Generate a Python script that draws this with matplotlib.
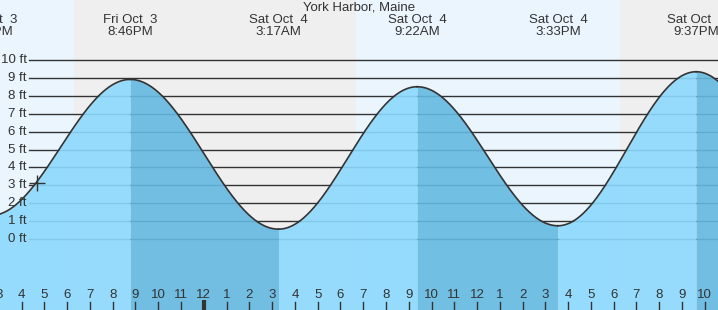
import numpy as np
import matplotlib.pyplot as plt

plt.rcParams['font.family'] = ['Liberation Sans', 'DejaVu Sans']

# hours counted from Fri Oct 3 00:00
tide_hours = [14.63, 20.77, 27.28, 33.37, 39.55, 45.62, 51.80]
tide_ft = [1.30, 8.93, 0.54, 8.52, 0.73, 9.36, 0.30]
tide_labels = ['Fri Oct  3\n2:38PM', 'Fri Oct  3\n8:46PM', 'Sat Oct  4\n3:17AM',
               'Sat Oct  4\n9:22AM', 'Sat Oct  4\n3:33PM', 'Sat Oct  4\n9:37PM', '']
sun_hours = [18.30, 30.68, 42.28]   # sunset fri, sunrise sat, sunset sat
now_hour = 16.69
now_ft = 3.1
ft_levels = list(range(0, 11))
hour_ticks = list(range(15, 47))

x0, x1 = 15.05, 46.58
y0, y1 = -3.99, 13.38

fig = plt.figure(figsize=(7.18, 3.10), dpi=100)
ax = fig.add_axes([0, 0, 1, 1])
ax.set_xlim(x0, x1)
ax.set_ylim(y0, y1)
ax.axis('off')

day = '#eaf5fe'
night = '#efefef'
edges = [x0] + sun_hours + [x1]
for i in range(len(edges) - 1):
    ax.axvspan(edges[i], edges[i + 1], color=day if i % 2 == 0 else night, lw=0, zorder=0)

# foot lines + labels
for f in ft_levels:
    ax.axhline(f, xmin=29 / 718, color='#333333', lw=1, zorder=1)
    ax.text(27 / 718, f, '%d ft' % f, transform=ax.get_yaxis_transform(),
            ha='right', va='center', fontsize=9.5, color='#333333')

light = '#8cd9fd'
dark = '#65b9e2'
for i in range(len(tide_hours) - 1):
    ta, tb = tide_hours[i], tide_hours[i + 1]
    ha_, hb = tide_ft[i], tide_ft[i + 1]
    t = np.linspace(ta, tb, 200)
    h = ha_ + (hb - ha_) * (1 - np.cos(np.pi * (t - ta) / (tb - ta))) / 2
    col = dark if hb < ha_ else light
    ax.fill_between(t, y0, h, color=col, alpha=0.9, lw=0, zorder=2)
    ax.plot(t, h, color='#333333', lw=1.2, zorder=3)

ax.plot(now_hour, now_ft, marker='+', ms=11, mew=1.0, color='#333333', zorder=4)

# hour ticks at bottom
xt = ax.get_xaxis_transform()
for hr in hour_ticks:
    lab = str((hr - 1) % 12 + 1)
    if hr % 24 == 0:
        ax.plot([hr, hr], [0, 10 / 310], transform=xt, color='#333333', lw=3, zorder=4,
                solid_capstyle='butt')
    else:
        ax.plot([hr, hr], [0, 8 / 310], transform=xt, color='#333333', lw=1, zorder=4)
    ax.text(hr, 15 / 310, lab, transform=xt, ha='center', va='center',
            fontsize=9.5, color='#333333', zorder=5)

# high/low labels at top
for th, lab in zip(tide_hours, tide_labels):
    if lab:
        ax.text(th, 1 - 26 / 310, lab, transform=xt, ha='center', va='center',
                fontsize=9.5, color='#333333', linespacing=1.0, zorder=5)

ax.text(0.5, 1 - 7.5 / 310, 'York Harbor, Maine', transform=ax.transAxes,
        ha='center', va='center', fontsize=9.5, color='#333333', zorder=5)

fig.savefig('out.png', dpi=100)
